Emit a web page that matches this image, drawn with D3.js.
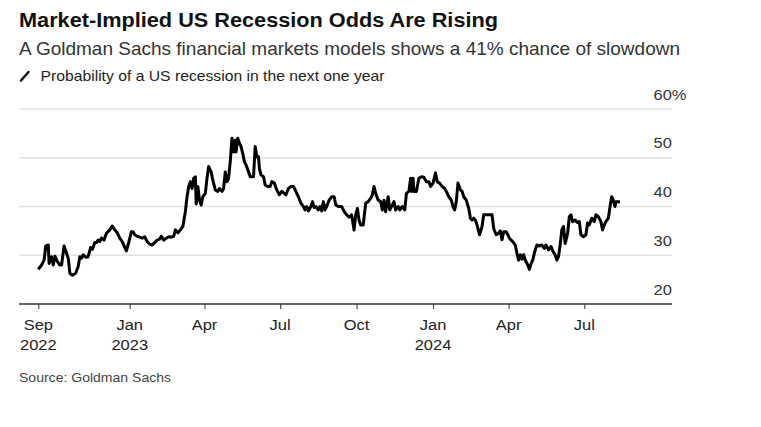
<!DOCTYPE html>
<html>
<head>
<meta charset="utf-8">
<script src="https://cdn.jsdelivr.net/npm/d3@7"></script>
<style>
  html, body { margin: 0; padding: 0; background: #fff; }
  svg { display: block; font-family: "Liberation Sans", Arial, Helvetica, sans-serif; }
</style>
</head>
<body>
<svg id="chart" width="761" height="427"></svg>
<script>
// ---- Data ----
const dates = [
"2022-09-13","2022-09-17","2022-09-20","2022-09-22","2022-09-25","2022-09-26","2022-09-29","2022-10-01","2022-10-03","2022-10-06",
"2022-10-09","2022-10-11","2022-10-14","2022-10-17","2022-10-19","2022-10-21","2022-10-24","2022-10-28","2022-10-31","2022-11-02",
"2022-11-04","2022-11-06","2022-11-09","2022-11-12","2022-11-15","2022-11-17","2022-11-20","2022-11-22","2022-11-24","2022-11-26",
"2022-11-28","2022-12-01","2022-12-04","2022-12-08","2022-12-11","2022-12-14","2022-12-17","2022-12-20","2022-12-23","2022-12-26",
"2022-12-28","2022-12-30","2023-01-03","2023-01-05","2023-01-07","2023-01-10","2023-01-13","2023-01-16","2023-01-19","2023-01-22",
"2023-01-25","2023-01-28","2023-01-31","2023-02-03","2023-02-06","2023-02-08","2023-02-11","2023-02-14","2023-02-17","2023-02-20",
"2023-02-23","2023-02-25","2023-02-28","2023-03-03","2023-03-06","2023-03-09","2023-03-11","2023-03-13","2023-03-15","2023-03-17",
"2023-03-19","2023-03-21","2023-03-22","2023-03-24","2023-03-26","2023-03-28","2023-03-30","2023-04-02","2023-04-04","2023-04-06",
"2023-04-09","2023-04-11","2023-04-14","2023-04-17","2023-04-19","2023-04-22","2023-04-24","2023-04-26","2023-04-28","2023-04-30",
"2023-05-02","2023-05-04","2023-05-06","2023-05-08","2023-05-09","2023-05-11","2023-05-13","2023-05-15","2023-05-17","2023-05-19",
"2023-05-21","2023-05-24","2023-05-26","2023-05-30","2023-06-01","2023-06-03","2023-06-05","2023-06-06","2023-06-08","2023-06-11",
"2023-06-13","2023-06-16","2023-06-19","2023-06-21","2023-06-24","2023-06-27","2023-06-30","2023-07-03","2023-07-06","2023-07-08",
"2023-07-11","2023-07-14","2023-07-17","2023-07-20","2023-07-23","2023-07-26","2023-07-29","2023-07-31","2023-08-02","2023-08-04",
"2023-08-07","2023-08-09","2023-08-11","2023-08-13","2023-08-16","2023-08-18","2023-08-20","2023-08-22","2023-08-24","2023-08-26",
"2023-08-29","2023-09-01","2023-09-04","2023-09-06","2023-09-09","2023-09-13","2023-09-16","2023-09-19","2023-09-22","2023-09-25",
"2023-09-28","2023-09-30","2023-10-02","2023-10-04","2023-10-06","2023-10-09","2023-10-12","2023-10-15","2023-10-18","2023-10-20",
"2023-10-22","2023-10-24","2023-10-27","2023-10-30","2023-11-01","2023-11-03","2023-11-05","2023-11-08","2023-11-10","2023-11-13",
"2023-11-15","2023-11-17","2023-11-20","2023-11-22","2023-11-25","2023-11-28","2023-11-30","2023-12-03","2023-12-05","2023-12-06",
"2023-12-08","2023-12-09","2023-12-12","2023-12-15","2023-12-18","2023-12-21","2023-12-24","2023-12-27","2023-12-29","2024-01-01",
"2024-01-04","2024-01-06","2024-01-09","2024-01-12","2024-01-15","2024-01-17","2024-01-20","2024-01-23","2024-01-25","2024-01-27",
"2024-01-29","2024-01-31","2024-02-03","2024-02-05","2024-02-07","2024-02-10","2024-02-13","2024-02-15","2024-02-17","2024-02-19",
"2024-02-21","2024-02-23","2024-02-26","2024-02-29","2024-03-02","2024-03-05","2024-03-09","2024-03-12","2024-03-14","2024-03-17",
"2024-03-20","2024-03-22","2024-03-24","2024-03-26","2024-03-29","2024-03-31","2024-04-02","2024-04-04","2024-04-06","2024-04-09",
"2024-04-11","2024-04-13","2024-04-15","2024-04-17","2024-04-19","2024-04-21","2024-04-24","2024-04-26","2024-04-28","2024-04-30",
"2024-05-02","2024-05-05","2024-05-08","2024-05-11","2024-05-14","2024-05-16","2024-05-19","2024-05-22","2024-05-24","2024-05-27",
"2024-05-29","2024-05-31","2024-06-02","2024-06-04","2024-06-06","2024-06-08","2024-06-11","2024-06-13","2024-06-15","2024-06-17",
"2024-06-20","2024-06-23","2024-06-25","2024-06-27","2024-06-30","2024-07-03","2024-07-05","2024-07-07","2024-07-10","2024-07-13",
"2024-07-15","2024-07-18","2024-07-21","2024-07-23","2024-07-25","2024-07-27","2024-07-30","2024-08-01","2024-08-03","2024-08-05",
"2024-08-07","2024-08-08","2024-08-11","2024-08-13"
];
const probability = [
27.1,28.0,29.0,31.9,32.1,28.3,29.7,28.0,29.8,28.7,
28.0,28.0,31.9,30.4,29.4,26.3,25.9,26.3,27.7,29.7,
29.4,30.1,29.6,29.7,31.6,31.2,32.6,32.6,33.1,32.8,
33.5,33.1,34.5,35.2,36.0,35.2,34.6,33.5,32.8,31.6,
30.9,32.1,34.8,34.8,34.2,33.9,33.7,33.5,33.8,32.8,
32.3,32.1,32.6,33.1,33.3,33.9,33.1,33.5,33.8,33.7,
33.9,35.2,34.6,35.2,35.9,39.0,42.0,44.1,45.1,43.7,
45.8,46.1,40.5,44.1,41.3,40.3,42.0,42.7,45.8,48.2,
47.1,45.4,43.4,43.1,43.7,43.1,43.7,47.1,45.1,45.8,
49.2,54.0,51.2,53.6,51.2,54.0,53.0,52.3,50.9,49.2,
48.5,47.1,46.1,46.1,52.3,50.2,50.2,47.8,46.5,46.1,
44.4,44.1,44.1,45.1,44.8,43.4,42.4,43.1,42.7,42.4,
43.7,44.1,44.1,43.1,42.0,40.7,40.0,39.3,40.0,39.1,
40.0,41.0,39.8,40.0,39.3,40.0,39.1,41.0,39.3,40.0,
41.3,42.0,42.0,40.3,40.0,40.0,39.0,38.3,37.8,38.3,
35.2,38.3,39.6,37.2,36.2,36.2,40.7,41.0,41.7,42.4,
44.1,42.7,41.3,41.0,39.3,41.3,38.9,42.0,39.3,40.3,
41.0,39.3,40.0,39.3,40.0,39.3,42.7,43.1,45.8,43.1,
45.8,43.1,43.1,45.8,46.1,46.0,45.1,45.1,44.1,44.8,
46.9,45.1,44.8,44.1,43.7,43.1,42.0,41.3,40.0,39.3,
41.0,44.8,43.4,43.1,42.0,41.3,39.6,37.6,37.2,37.6,
37.2,36.2,34.2,35.9,38.3,38.3,38.3,38.3,35.5,34.2,
34.5,35.0,33.2,34.8,34.8,34.2,33.5,33.1,32.8,32.1,
30.4,29.0,30.1,29.2,30.1,29.0,28.0,27.1,28.3,29.0,
30.5,32.1,31.9,32.1,31.4,32.1,31.1,31.8,30.9,30.1,
29.0,29.7,32.1,35.2,35.9,32.4,34.5,37.9,38.3,36.9,
37.2,36.7,36.9,34.2,33.8,34.2,36.6,36.2,37.6,36.9,
38.3,37.9,36.9,35.2,36.2,36.9,37.6,40.0,42.0,41.3,
40.0,41.0,41.0,41.0
];
const xTickDates = ["2022-09-13","2023-01-01","2023-04-01","2023-07-01","2023-10-01","2024-01-01","2024-04-01","2024-07-01"];
const xTickMonths = ["Sep","Jan","Apr","Jul","Oct","Jan","Apr","Jul"];
const xTickYears = ["2022","2023","","","","2024","",""];
const yTicks = [20, 30, 40, 50, 60];
const yTickLabels = ["20","30","40","50","60%"];

const title = "Market-Implied US Recession Odds Are Rising";
const subtitle = "A Goldman Sachs financial markets models shows a 41% chance of slowdown";
const legendLabel = "Probability of a US recession in the next one year";
const source = "Source: Goldman Sachs";

// ---- Layout ----
const parse = d3.utcParse("%Y-%m-%d");
const data = dates.map((d, i) => ({ date: parse(d), value: probability[i] }));

const svg = d3.select("#chart");
const gridLeft = 19, gridRight = 672;
const stretch = 1.1; // horizontal stretch of the reference's lettering

const x = d3.scaleUtc()
  .domain([parse("2022-09-13"), parse("2024-08-13")])
  .range([38.3, 620]);
const y = d3.scaleLinear()
  .domain([20, 60])
  .range([304, 109]);

// Title block
svg.append("text").attr("x", 19).attr("y", 27)
  .attr("font-size", 20).attr("font-weight", "bold").attr("fill", "#111")
  .attr("textLength", 479).attr("lengthAdjust", "spacingAndGlyphs")
  .text(title);
svg.append("text").attr("x", 19).attr("y", 55)
  .attr("font-size", 18.5).attr("fill", "#333")
  .attr("textLength", 661).attr("lengthAdjust", "spacingAndGlyphs")
  .text(subtitle);

// Legend
svg.append("line")
  .attr("x1", 21).attr("y1", 80.5).attr("x2", 28.5).attr("y2", 72)
  .attr("stroke", "#111").attr("stroke-width", 2.5).attr("stroke-linecap", "round");
svg.append("text").attr("x", 40.5).attr("y", 80.5)
  .attr("font-size", 14.5).attr("fill", "#222")
  .attr("textLength", 344).attr("lengthAdjust", "spacingAndGlyphs")
  .text(legendLabel);

// Gridlines
svg.append("g").selectAll("line")
  .data(yTicks.filter(t => t !== 20))
  .join("line")
  .attr("x1", gridLeft).attr("x2", gridRight)
  .attr("y1", d => y(d)).attr("y2", d => y(d))
  .attr("stroke", "#e1e1e1").attr("stroke-width", 1.3);

// Y labels (right side, above gridline)
svg.append("g").selectAll("text")
  .data(yTicks)
  .join("text")
  .attr("transform", d => `translate(653.5,${y(d) - 9.5}) scale(${stretch},1)`)
  .attr("font-size", 15).attr("fill", "#333")
  .text((d, i) => yTickLabels[i]);

// X axis
const xAxis = d3.axisBottom(x)
  .tickValues(xTickDates.map(parse))
  .tickSize(5)
  .tickFormat("");
const gx = svg.append("g").attr("transform", `translate(0,${y(20)})`).call(xAxis);
gx.select(".domain").remove();
gx.selectAll(".tick line").attr("stroke", "#555").attr("stroke-width", 1.2);
svg.append("line")
  .attr("x1", gridLeft).attr("x2", gridRight)
  .attr("y1", y(20)).attr("y2", y(20))
  .attr("stroke", "#333").attr("stroke-width", 1.3);

const tickG = svg.append("g").selectAll("g")
  .data(xTickDates)
  .join("g")
  .attr("transform", d => `translate(${x(parse(d))},0) scale(${stretch},1)`);
tickG.append("text").attr("y", 330.5).attr("text-anchor", "middle")
  .attr("font-size", 15).attr("fill", "#222")
  .text((d, i) => xTickMonths[i]);
tickG.append("text").attr("y", 350.5).attr("text-anchor", "middle")
  .attr("font-size", 15).attr("fill", "#222")
  .text((d, i) => xTickYears[i]);

// Line
const line = d3.line().x(d => x(d.date)).y(d => y(d.value));
svg.append("path").datum(data)
  .attr("d", line)
  .attr("fill", "none").attr("stroke", "#000")
  .attr("stroke-width", 3).attr("stroke-linejoin", "round");

// Source
svg.append("text").attr("x", 19).attr("y", 381.5)
  .attr("font-size", 13.5).attr("fill", "#444")
  .attr("textLength", 152).attr("lengthAdjust", "spacingAndGlyphs")
  .text(source);
</script>
</body>
</html>
